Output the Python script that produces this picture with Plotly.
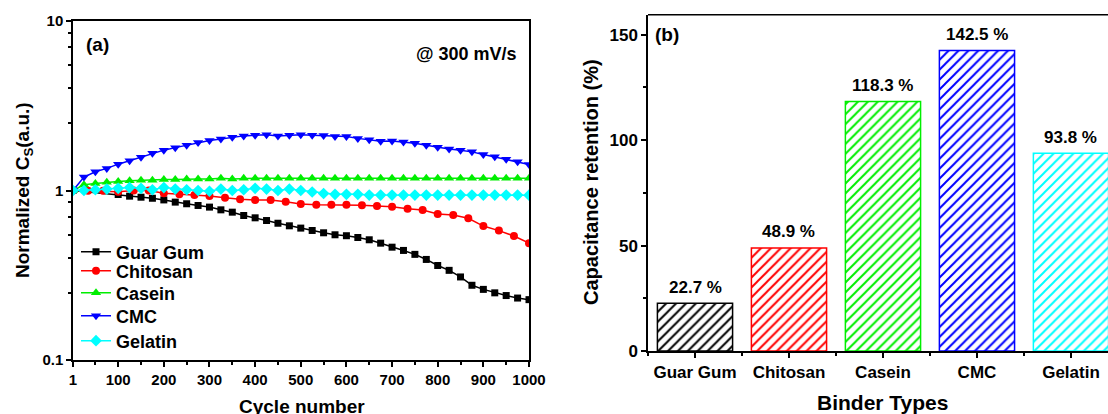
import plotly.graph_objects as go

# ---------------- data: panel (a) ----------------
guar_x = [1, 100, 125, 150, 175, 200, 225, 250, 275, 300, 325, 350, 375, 400, 425, 450, 475, 500,
          525, 550, 575, 600, 625, 650, 675, 700, 725, 750, 775, 800, 825, 850, 875, 900, 925, 950, 975, 1000]
guar_y = [1.0, 0.947, 0.926, 0.913, 0.90, 0.88, 0.854, 0.835, 0.816, 0.798, 0.769, 0.745, 0.712, 0.690,
          0.665, 0.641, 0.619, 0.600, 0.581, 0.563, 0.548, 0.541, 0.528, 0.512, 0.489, 0.463, 0.443,
          0.420, 0.392, 0.361, 0.338, 0.309, 0.276, 0.261, 0.249, 0.240, 0.232, 0.227]

chit_x = [1, 34, 67, 100, 134, 167, 200, 234, 267, 300, 334, 367, 400, 434, 467, 500, 534, 567, 600,
          634, 667, 700, 734, 767, 800, 834, 867, 900, 934, 967, 1000]
chit_y = [1.0, 0.997, 0.997, 0.984, 1.0, 1.0, 0.962, 0.95, 0.94, 0.928, 0.907, 0.887, 0.88, 0.88,
          0.859, 0.833, 0.825, 0.825, 0.825, 0.818, 0.81, 0.803, 0.781, 0.767, 0.727, 0.717, 0.686,
          0.617, 0.58, 0.539, 0.489]

cyc_x = [1, 25, 50, 75, 100, 125, 150, 175, 200, 225, 250, 275, 300, 325, 350, 375, 400, 425, 450, 475,
         500, 525, 550, 575, 600, 625, 650, 675, 700, 725, 750, 775, 800, 825, 850, 875, 900, 925, 950,
         975, 1000]
casein_y = [1.0, 1.08, 1.10, 1.12, 1.13, 1.14, 1.15, 1.15, 1.16, 1.16, 1.17, 1.17, 1.17, 1.18, 1.17,
            1.18, 1.18, 1.18, 1.18, 1.18, 1.18, 1.18, 1.18, 1.18, 1.18, 1.18, 1.18, 1.18, 1.18, 1.18,
            1.18, 1.18, 1.18, 1.18, 1.18, 1.18, 1.18, 1.18, 1.18, 1.18, 1.183]
cmc_y = [1.00, 1.20, 1.29, 1.35, 1.43, 1.50, 1.57, 1.66, 1.73, 1.79, 1.85, 1.92, 1.97, 2.01, 2.06,
         2.10, 2.12, 2.13, 2.10, 2.12, 2.13, 2.12, 2.11, 2.08, 2.08, 2.03, 1.99, 1.95, 1.96, 1.93,
         1.90, 1.85, 1.80, 1.76, 1.73, 1.69, 1.63, 1.58, 1.53, 1.48, 1.425]
gel_y = [1.00, 1.00, 1.01, 1.02, 1.03, 1.04, 1.03, 1.01, 1.04, 1.02, 1.01, 1.00, 0.99, 1.02, 1.00,
         1.01, 1.03, 1.02, 1.00, 1.02, 1.00, 0.98, 0.96, 0.95, 0.95, 0.95, 0.94, 0.94, 0.94, 0.94,
         0.94, 0.94, 0.94, 0.94, 0.94, 0.94, 0.94, 0.94, 0.94, 0.94, 0.938]

x_tickvals = [1, 100, 200, 300, 400, 500, 600, 700, 800, 900, 1000]
x_ticktext = ["1", "100", "200", "300", "400", "500", "600", "700", "800", "900", "1000"]
x_minor = [50, 150, 250, 350, 450, 550, 650, 750, 850, 950]
y_tickvals = [0.1, 1, 10]
y_ticktext = ["0.1", "1", "10"]
y_minor = [0.25, 0.4, 0.55, 0.7, 0.85, 2.5, 4, 5.5, 7, 8.5]

# ---------------- data: panel (b) ----------------
binders = ["Guar Gum", "Chitosan", "Casein", "CMC", "Gelatin"]
retention = [22.7, 48.9, 118.3, 142.5, 93.8]
colors = ["#000000", "#FF0000", "#00EE00", "#0000FF", "#00FFFF"]
markers = ["square", "circle", "triangle-up", "triangle-down", "diamond"]
msizes = [7, 8, 9, 9, 9]
legend_rows = [252, 271, 293, 316, 341]   # screen rows of legend entries

FONT = "Arial, Liberation Sans, sans-serif"
W, H = 1108, 414
BOLD = dict(family=FONT, color="black", weight="bold")


def px(sx):      # screen x -> paper fraction
    return sx / W


def py(sy):      # screen y -> paper fraction
    return 1 - sy / H


fig = go.Figure()

series = [(guar_x, guar_y), (chit_x, chit_y), (cyc_x, casein_y), (cyc_x, cmc_y), (cyc_x, gel_y)]
legend_names = ["legend", "legend2", "legend3", "legend4", "legend5"]
for (sx, sy), name, c, m, ms, lg in zip(series, binders, colors, markers, msizes, legend_names):
    fig.add_trace(go.Scatter(x=sx, y=sy, name=name, mode="lines+markers",
                             line=dict(color=c, width=1.5),
                             marker=dict(symbol=m, size=ms, color=c),
                             xaxis="x", yaxis="y", legend=lg))

bar_pos = list(range(len(binders)))
fig.add_trace(go.Bar(x=bar_pos, y=retention, width=0.8, showlegend=False,
                     marker=dict(color="white", line=dict(color=colors, width=1.5),
                                 pattern=dict(shape="/", fgcolor=colors, bgcolor="white",
                                              size=7, solidity=0.28, fillmode="replace")),
                     xaxis="x2", yaxis="y2"))

for p, v in zip(bar_pos, retention):
    fig.add_annotation(x=p, y=v, xref="x2", yref="y2", text=f"{v} %", showarrow=False,
                       yshift=16, font=dict(size=17, **BOLD))


def axis(size, **kw):
    d = dict(showline=True, linecolor="black", linewidth=1.5, ticks="outside",
             tickcolor="black", tickwidth=1.5, showgrid=False, zeroline=False, ticklen=5,
             automargin=False, tickfont=dict(size=size, **BOLD))
    d.update(kw)
    return d


minor_style = dict(ticks="outside", ticklen=3, tickwidth=1.5, tickcolor="black")

layout = dict(
    width=W, height=H, margin=dict(l=0, r=0, t=0, b=0, autoexpand=False),
    paper_bgcolor="white", plot_bgcolor="white",
    font=dict(family=FONT, color="black"),
    xaxis=axis(15, domain=[px(73), px(529)], range=[1, 1000], mirror=True,
               tickvals=x_tickvals, ticktext=x_ticktext,
               minor=dict(tickvals=x_minor, **minor_style), anchor="y"),
    yaxis=axis(15, domain=[py(360), py(21)], type="log", range=[-1, 1], mirror=True,
               tickvals=y_tickvals, ticktext=y_ticktext,
               minor=dict(tickvals=y_minor, **minor_style), anchor="x"),
    xaxis2=axis(17, domain=[px(648), 1.0], range=[-0.5, 4.394],
                tickvals=bar_pos, ticktext=binders,
                minor=dict(tick0=0.5, dtick=1, **minor_style), anchor="y2"),
    yaxis2=axis(17, domain=[py(351), py(14.7)], range=[0, 159.5],
                tickvals=[0, 50, 100, 150],
                minor=dict(tick0=25, dtick=50, **minor_style), anchor="x2"),
)
for lg, row in zip(legend_names, legend_rows):
    layout[lg] = dict(x=px(76), y=py(row), xanchor="left", yanchor="middle",
                      bgcolor="rgba(0,0,0,0)", borderwidth=0,
                      font=dict(size=18, **BOLD), itemwidth=30)
fig.update_layout(**layout)

# top border of panel (b)
fig.add_shape(type="line", xref="x2 domain", yref="y2 domain", x0=0, x1=1, y0=1, y1=1,
              line=dict(color="black", width=1.5))


def txt(x, y, s, size, angle=0, xanchor="center"):
    fig.add_annotation(x=px(x), y=py(y), xref="paper", yref="paper", text=s, showarrow=False,
                       textangle=angle, xanchor=xanchor, yanchor="middle",
                       font=dict(size=size, **BOLD))


txt(24, 190, "Normalized C<sub>S</sub>(a.u.)", 19, angle=-90)
txt(302, 406, "Cycle number", 19)
txt(97, 44, "(a)", 19)
txt(519, 54, "@ 300 mV/s", 18, xanchor="right")
txt(591, 182, "Capacitance retention (%)", 20, angle=-90)
txt(882, 402, "Binder Types", 21)
txt(667, 34, "(b)", 19)

# remove the browser's default page margin so the figure sits at the window origin
page_fix = ("document.documentElement.style.overflow='hidden';"
            "document.body.style.margin='0px';document.body.style.overflow='hidden';")

fig.write_html("out.html", post_script=page_fix, config={"displayModeBar": False})
